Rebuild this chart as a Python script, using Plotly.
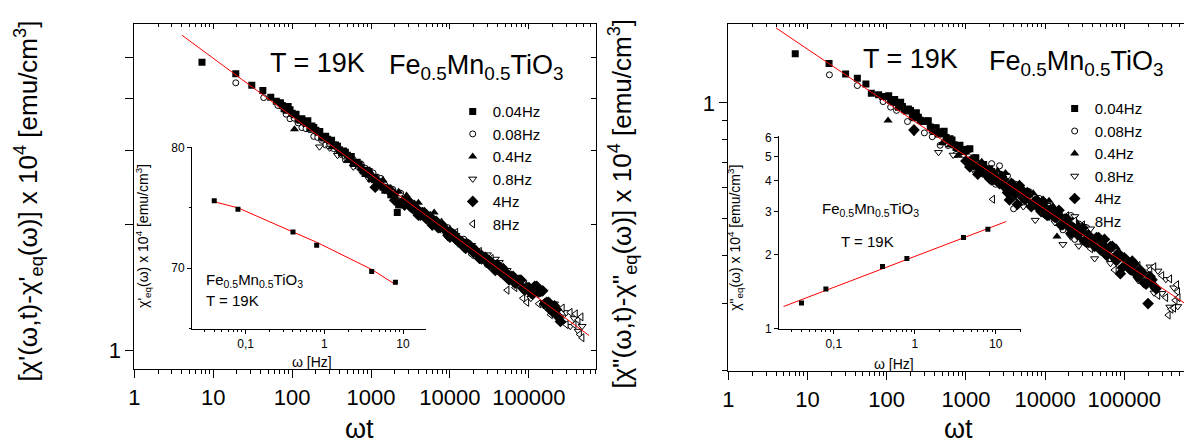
import plotly.graph_objects as go

W, H = 1184, 447
FONT = "Liberation Sans, Arial, sans-serif"

# ---------------- data: left panel (chi') ----------------
L_SQ_X = [7.2, 19.3, 30.8, 42.5, 53.6, 63, 71, 79, 89, 100, 112, 126, 141, 158, 178, 200, 224, 251, 282, 316, 355, 398, 447, 501, 562, 631, 708, 794, 891, 1000, 1122, 1259, 1413, 1585, 1778, 1995, 2150, 2239,
          75, 84, 94, 106, 119, 133, 150, 168, 188, 211, 237, 266, 299, 335, 376, 422, 473, 531, 596, 668, 750, 841, 944, 1059, 1189, 1334, 1496, 1679, 1884]
L_SQ_Y = [4.87, 4.57, 4.29, 4.17, 4.02, 3.93, 3.90, 3.77, 3.82, 3.68, 3.66, 3.54, 3.51, 3.53, 3.43, 3.35, 3.33, 3.21, 3.19, 3.17, 3.09, 3.01, 2.99, 2.92, 2.90, 2.80, 2.78, 2.68, 2.69, 2.57, 2.58, 2.51, 2.45, 2.44, 2.35, 2.33, 2.13, 2.22,
          3.84, 3.74, 3.75, 3.65, 3.56, 3.57, 3.48, 3.39, 3.40, 3.32, 3.23, 3.24, 3.16, 3.09, 3.07, 2.96, 2.97, 2.90, 2.79, 2.81, 2.73, 2.64, 2.67, 2.57, 2.51, 2.52, 2.41, 2.42, 2.35]

L_CI_X = [19.3, 43.6, 66, 84, 94, 106, 119, 133, 150, 168, 188, 211, 237, 266, 299, 335, 376, 422, 473, 531, 596, 668, 750, 841, 944, 1059, 1189, 1334, 1496, 1679, 1884, 2113, 2371, 2661, 2985, 3758, 4732, 5957, 7499, 9441, 11885, 14962, 18836, 23714, 29854]
L_CI_Y = [4.35, 4.01, 3.84, 3.66, 3.57, 3.58, 3.49, 3.40, 3.38, 3.36, 3.24, 3.22, 3.17, 3.09, 3.10, 3.03, 2.95, 2.93, 2.85, 2.87, 2.85, 2.75, 2.78, 2.72, 2.64, 2.65, 2.59, 2.57, 2.48, 2.39, 2.42, 2.29, 2.37, 2.24, 2.27, 2.12, 2.13, 2.01, 1.98, 1.96, 1.84, 1.84, 1.71, 1.71, 1.60]

L_UT_X = [107, 316, 398, 501, 631, 794, 1000, 1122, 1259, 1413, 1585, 1778, 1995, 2239, 2512, 2818, 3162, 3548, 3981, 4467, 5012, 5623, 6310, 7079, 7943, 8913, 10000, 11220, 12589, 14125, 15849, 17783, 19953, 22387, 25119, 28184, 31623, 35481, 39811, 50119, 63096]
L_UT_Y = [3.37, 3.05, 3.01, 2.83, 2.80, 2.68, 2.65, 2.53, 2.54, 2.55, 2.44, 2.44, 2.38, 2.39, 2.29, 2.34, 2.24, 2.24, 2.25, 2.15, 2.08, 2.10, 2.13, 2.00, 2.01, 1.92, 1.94, 1.87, 1.86, 1.78, 1.81, 1.76, 1.76, 1.69, 1.70, 1.65, 1.65, 1.58, 1.59, 1.52, 1.48]

L_DT_X = [222, 299, 376, 473, 596, 750, 944, 1189, 1496, 1884, 2371, 2985, 3758, 4732, 5957, 7499, 9441, 11885, 14962, 18836, 23714, 29854, 37584, 42170, 47315, 53088, 66834, 84140, 105925, 133352, 167880, 211349, 266073, 298538, 334965, 375837, 421696, 473151]
L_DT_Y = [3.06, 3.04, 2.92, 2.88, 2.74, 2.68, 2.56, 2.53, 2.41, 2.35, 2.23, 2.23, 2.11, 2.07, 1.97, 1.98, 1.86, 1.88, 1.76, 1.78, 1.64, 1.69, 1.65, 1.62, 1.50, 1.55, 1.43, 1.45, 1.33, 1.36, 1.26, 1.29, 1.20, 1.23, 1.14, 1.19, 1.11, 1.14]

L_DI_X = [1130, 1995, 2512, 2818, 3162, 3548, 3981, 4467, 5012, 5623, 6310, 7079, 7943, 8913, 10000, 11220, 12589, 14125, 15849, 17783, 19953, 22387, 25119, 28184, 31623, 35481, 39811, 44668, 50119, 56234, 63096, 70795, 79433, 89125, 100000, 112202, 125893, 141254, 158489, 177828, 199526, 223872, 251189,
          2661, 2985, 3350, 3758, 4217, 4732, 5309, 5957, 6683, 7499, 8414, 9441, 10593, 11885, 13335, 14962, 16788, 18836, 21135, 23714, 26607, 29854, 33497, 37584, 42170, 47315, 53088, 59566, 66834, 74989, 84140, 94406, 105925, 118850, 133352, 149624, 167880, 188365, 211349, 237137]
L_DI_Y = [2.45, 2.28, 2.26, 2.27, 2.20, 2.18, 2.10, 2.13, 2.06, 2.08, 2.01, 1.96, 1.99, 1.935, 1.86, 1.89, 1.82, 1.815, 1.75, 1.78, 1.71, 1.70, 1.65, 1.665, 1.60, 1.60, 1.60, 1.53, 1.535, 1.47, 1.50, 1.45, 1.47, 1.39, 1.41, 1.36, 1.42, 1.38, 1.29, 1.30, 1.235, 1.25, 1.17,
          2.22, 2.27, 2.18, 2.18, 2.10, 2.13, 2.06, 1.99, 2.03, 1.96, 1.95, 1.88, 1.90, 1.84, 1.825, 1.765, 1.79, 1.73, 1.73, 1.655, 1.667, 1.62, 1.62, 1.55, 1.557, 1.565, 1.49, 1.50, 1.445, 1.47, 1.405, 1.41, 1.37, 1.42, 1.38, 1.385, 1.30, 1.25, 1.275, 1.20]

L_LT_X = [5957, 7499, 9441, 11885, 14962, 18836, 23714, 29854, 33497, 42170, 53088, 66834, 74989, 84140, 94406, 105925, 118850, 133352, 149624, 167880, 188365, 211349, 237137, 266073, 298538, 334965, 375837, 390000, 421696, 440000, 460000, 473151]
L_LT_Y = [1.99, 2.02, 1.88, 1.91, 1.78, 1.69, 1.72, 1.60, 1.655, 1.53, 1.39, 1.41, 1.47, 1.33, 1.30, 1.355, 1.38, 1.29, 1.28, 1.30, 1.215, 1.275, 1.20, 1.26, 1.15, 1.23, 1.15, 1.22, 1.18, 1.09, 1.20, 1.07]

L_FIT_X = [4.03, 580000]
L_FIT_Y = [5.65, 1.083]

# ---------------- data: right panel (chi'') ----------------
R_SQ_X = [7.0, 18.7, 30.3, 42.6, 54.6, 64, 79, 89, 100, 112, 126, 141, 158, 178, 200, 224, 251, 282, 316, 355, 398, 447, 501, 562, 631, 708, 794, 891, 1000, 1122, 1259, 1413, 1585, 1778, 1995, 2239, 2512,
          106, 119, 133, 150, 168, 188, 211, 237, 266, 299, 335, 376, 422, 473, 531, 596, 668, 750, 841, 944, 1059, 1189, 1334, 1496, 1679, 1884, 2113]
R_SQ_Y = [1.344, 1.268, 1.19, 1.16, 1.12, 1.06, 1.05, 1.04, 1.04, 1.016, 1.02, 0.974, 0.978, 0.953, 0.956, 0.914, 0.917, 0.894, 0.897, 0.865, 0.86, 0.83, 0.841, 0.812, 0.806, 0.778, 0.774, 0.746, 0.756, 0.759, 0.718, 0.679, 0.689, 0.651, 0.673, 0.624, 0.639,
          1.044, 1.007, 1.002, 1.004, 0.96, 0.964, 0.921, 0.942, 0.901, 0.895, 0.898, 0.85, 0.861, 0.831, 0.843, 0.798, 0.80, 0.765, 0.775, 0.748, 0.757, 0.71, 0.719, 0.68, 0.69, 0.646, 0.662]

R_CI_X = [18.9, 42.6, 90, 112, 133, 183, 299, 376, 473, 596, 750, 944, 1189, 1496, 1884, 2113, 2371, 2661, 2985, 3350, 3758, 4217, 4732, 5309, 6683, 8414, 10593, 13335, 16788, 21135, 23714, 26607, 29854, 33497, 37584, 4000]
R_CI_Y = [1.184, 1.11, 1.008, 0.975, 0.956, 0.894, 0.835, 0.816, 0.775, 0.774, 0.734, 0.733, 0.696, 0.694, 0.646, 0.694, 0.613, 0.685, 0.612, 0.645, 0.562, 0.613, 0.562, 0.588, 0.541, 0.563, 0.514, 0.522, 0.466, 0.508, 0.44, 0.483, 0.435, 0.472, 0.425, 0.529]

R_UT_X = [104, 398, 501, 631, 794, 1000, 1259, 1585, 1995, 2512, 2818, 3162, 3548, 3981, 4467, 5012, 5623, 6310, 7079, 7943, 8913, 10000, 11220, 12589, 14125, 15849, 17783, 19953, 22387, 25119, 28184, 31623, 39811, 50119, 56234, 63096, 79433]
R_UT_Y = [0.90, 0.835, 0.785, 0.775, 0.728, 0.742, 0.697, 0.702, 0.66, 0.665, 0.635, 0.656, 0.597, 0.618, 0.59, 0.604, 0.554, 0.573, 0.581, 0.54, 0.552, 0.528, 0.555, 0.537, 0.448, 0.51, 0.477, 0.498, 0.472, 0.487, 0.443, 0.458, 0.426, 0.438, 0.444, 0.42, 0.419]

R_DT_X = [221, 451, 690, 1059, 1334, 1679, 2113, 2661, 3350, 4217, 5309, 5957, 7499, 8414, 10593, 13335, 16788, 18836, 21135, 23714, 26607, 29854, 33497, 37584, 42170, 53088, 66834, 74989, 94406, 118850, 149624, 188365, 211349, 237137, 266073, 298538, 334965, 375837, 421696, 473151]
R_DT_Y = [0.838, 0.743, 0.731, 0.692, 0.656, 0.657, 0.622, 0.653, 0.589, 0.607, 0.536, 0.589, 0.494, 0.53, 0.54, 0.487, 0.427, 0.497, 0.447, 0.505, 0.423, 0.476, 0.427, 0.469, 0.392, 0.41, 0.381, 0.406, 0.371, 0.385, 0.344, 0.357, 0.373, 0.319, 0.364, 0.318, 0.346, 0.293, 0.329, 0.294]

R_DI_X = [221, 1000, 1122, 1259, 1413, 1585, 1778, 1995, 2239, 2512, 2818, 3162, 3548, 3981, 4467, 5012, 5623, 6310, 7079, 7943, 8913, 10000, 11220, 12589, 14125, 15849, 17783, 19953, 22387, 25119, 28184, 31623, 35481, 39811, 44668, 50119, 56234, 63096, 70795, 79433, 89125, 100000, 112202, 125893, 141254, 158489, 177828, 199526, 223872, 251189,
          2661, 2985, 3350, 3758, 4217, 4732, 5309, 5957, 6683, 7499, 8414, 9441, 10593, 11885, 13335, 14962, 16788, 18836, 21135, 23714, 26607, 29854, 33497, 37584, 42170, 47315, 53088, 59566, 66834, 74989, 84140, 94406, 105925, 118850, 133352, 149624, 167880, 188365, 211349, 237137]
R_DI_Y = [0.85, 0.705, 0.68, 0.69, 0.651, 0.662, 0.664, 0.634, 0.65, 0.626, 0.642, 0.60, 0.558, 0.60, 0.543, 0.593, 0.56, 0.579, 0.547, 0.556, 0.52, 0.533, 0.509, 0.526, 0.503, 0.48, 0.497, 0.474, 0.486, 0.455, 0.462, 0.436, 0.451, 0.435, 0.445, 0.413, 0.44, 0.416, 0.422, 0.387, 0.358, 0.394, 0.377, 0.386, 0.358, 0.366, 0.339, 0.299, 0.345, 0.327,
          0.615, 0.63, 0.583, 0.616, 0.577, 0.608, 0.564, 0.583, 0.536, 0.554, 0.53, 0.553, 0.508, 0.525, 0.502, 0.524, 0.481, 0.497, 0.456, 0.477, 0.455, 0.471, 0.432, 0.442, 0.422, 0.445, 0.426, 0.40, 0.421, 0.394, 0.404, 0.371, 0.388, 0.367, 0.379, 0.351, 0.36, 0.336, 0.352, 0.332]

R_LT_X = [2180, 5957, 7499, 9441, 11885, 14962, 18836, 23714, 29854, 37584, 47315, 59566, 74989, 94406, 118850, 149624, 188365, 211349, 237137, 266073, 298538, 334965, 360000, 375837, 390000, 421696, 440000, 460000, 473151, 480000]
R_LT_Y = [0.56, 0.549, 0.56, 0.511, 0.53, 0.489, 0.507, 0.454, 0.48, 0.416, 0.437, 0.396, 0.366, 0.394, 0.363, 0.376, 0.34, 0.366, 0.373, 0.314, 0.354, 0.31, 0.279, 0.347, 0.289, 0.291, 0.305, 0.335, 0.321, 0.31]

R_FIT_X = [4.0, 600000]
R_FIT_Y = [1.57, 0.298]

# ---------------- data: insets ----------------
INSET_W = [0.04, 0.08, 0.4, 0.8, 4, 8]
INSET_L_Y = [75.58, 74.88, 73.0, 71.9, 69.73, 68.84]
INSET_L_FIT_Y = [75.5, 75.0, 73.0, 72.15, 69.9, 68.65]
INSET_R_Y = [1.27, 1.45, 1.79, 1.93, 2.35, 2.54]
INSET_R_FIT_X = [0.024, 13.5]
INSET_R_FIT_Y = [1.23, 2.73]

SERIES_NAMES = ["0.04Hz", "0.08Hz", "0.4Hz", "0.8Hz", "4Hz", "8Hz"]
MAIN_TICKS = [1, 10, 100, 1000, 10000, 100000]
MAIN_TICK_TEXT = ["1", "10", "100", "1000", "10000", "100000"]

# marker styles: (symbol, fill, size)
STYLES = [("square", "black", 7), ("circle", "white", 6), ("triangle-up", "black", 8),
          ("triangle-down", "white", 7), ("diamond", "black", 9), ("triangle-left", "white", 7)]
# open-symbol series are drawn first so that the filled ones form the dark band on top
DRAW_ORDER = [1, 3, 5, 0, 2, 4]


def px(x):
    return x / W


def py(y):
    return 1 - y / H


fig = go.Figure()

left_series = [(L_SQ_X, L_SQ_Y), (L_CI_X, L_CI_Y), (L_UT_X, L_UT_Y),
               (L_DT_X, L_DT_Y), (L_DI_X, L_DI_Y), (L_LT_X, L_LT_Y)]
right_series = [(R_SQ_X, R_SQ_Y), (R_CI_X, R_CI_Y), (R_UT_X, R_UT_Y),
                (R_DT_X, R_DT_Y), (R_DI_X, R_DI_Y), (R_LT_X, R_LT_Y)]


def add_panel(series, xa, ya, legend_id, fit_x, fit_y):
    for i in DRAW_ORDER:
        xs, ys = series[i]
        sym, fill, size = STYLES[i]
        fig.add_trace(go.Scatter(x=xs, y=ys, mode="markers", name=SERIES_NAMES[i], xaxis=xa, yaxis=ya,
                                 legend=legend_id, legendrank=i + 1,
                                 marker=dict(symbol=sym, color=fill, size=size,
                                             line=dict(color="black", width=1 if fill == "white" else 0))))
    fig.add_trace(go.Scatter(x=fit_x, y=fit_y, mode="lines", xaxis=xa, yaxis=ya,
                             line=dict(color="red", width=1), showlegend=False))


add_panel(left_series, "x", "y", "legend", L_FIT_X, L_FIT_Y)
add_panel(right_series, "x3", "y3", "legend2", R_FIT_X, R_FIT_Y)

# insets
fig.add_trace(go.Scatter(x=INSET_W, y=INSET_L_FIT_Y, mode="lines", xaxis="x2", yaxis="y2",
                         line=dict(color="red", width=1), showlegend=False))
fig.add_trace(go.Scatter(x=INSET_W, y=INSET_L_Y, mode="markers", xaxis="x2", yaxis="y2",
                         marker=dict(symbol="square", color="black", size=5), showlegend=False))
fig.add_trace(go.Scatter(x=INSET_R_FIT_X, y=INSET_R_FIT_Y, mode="lines", xaxis="x4", yaxis="y4",
                         line=dict(color="red", width=1), showlegend=False))
fig.add_trace(go.Scatter(x=INSET_W, y=INSET_R_Y, mode="markers", xaxis="x4", yaxis="y4",
                         marker=dict(symbol="square", color="black", size=5), showlegend=False))

# empty traces so the mirrored (inward-tick) frame axes get drawn
for xa, ya in [("x5", "y"), ("x", "y5"), ("x6", "y3")]:
    fig.add_trace(go.Scatter(x=[], y=[], xaxis=xa, yaxis=ya, showlegend=False, hoverinfo="skip"))

main_minor = [m * 10 ** e for e in range(0, 6) for m in range(2, 10)]
inset_minor = [m * 10 ** e for e in range(-2, 2) for m in range(2, 10)]

main_ax = dict(type="log", showgrid=False, zeroline=False, showline=True, linecolor="black",
               linewidth=1, ticks="outside", ticklen=8, tickcolor="black",
               tickfont=dict(family=FONT, size=22, color="black"))
frame_ax = dict(type="log", showgrid=False, zeroline=False, showline=True, linecolor="black",
                linewidth=1, ticks="inside", ticklen=5, tickcolor="black", showticklabels=False)
inset_ax = dict(showgrid=False, zeroline=False, showline=True, linecolor="black", linewidth=1,
                ticks="outside", ticklen=4, tickcolor="black",
                tickfont=dict(family=FONT, size=12, color="black"))

LX_RANGE = [0, 5.851]
LY_RANGE = [-0.046, 0.778]
RX_RANGE = [0, 5.754]
RY_RANGE = [-0.701, 0.205]

fig.update_layout(
    width=W, height=H, margin=dict(l=0, r=0, t=0, b=0),
    paper_bgcolor="white", plot_bgcolor="rgba(0,0,0,0)",
    font=dict(family=FONT, color="black"),
    xaxis=dict(**main_ax, domain=[px(129), px(593)], range=LX_RANGE, anchor="y",
               tickvals=MAIN_TICKS, ticktext=MAIN_TICK_TEXT,
               minor=dict(tickvals=main_minor, ticks="outside", ticklen=4, tickcolor="black")),
    yaxis=dict(**main_ax, domain=[py(374), py(18)], range=LY_RANGE, anchor="x",
               tickvals=[1], ticktext=["1"],
               minor=dict(tickvals=[2, 3, 4, 5], ticks="outside", ticklen=8, tickcolor="black")),
    xaxis5=dict(**frame_ax, overlaying="x", side="top", anchor="y", range=LX_RANGE,
                tickvals=MAIN_TICKS,
                minor=dict(tickvals=main_minor, ticks="inside", ticklen=3, tickcolor="black")),
    yaxis5=dict(**frame_ax, overlaying="y", side="right", anchor="x", range=LY_RANGE,
                tickvals=[1, 2, 3, 4, 5]),
    xaxis3=dict(**main_ax, domain=[px(726), 1.0], range=RX_RANGE, anchor="y3",
                tickvals=MAIN_TICKS, ticktext=MAIN_TICK_TEXT,
                minor=dict(tickvals=main_minor, ticks="outside", ticklen=4, tickcolor="black")),
    xaxis6=dict(**frame_ax, overlaying="x3", side="top", anchor="y3", range=RX_RANGE,
                tickvals=MAIN_TICKS,
                minor=dict(tickvals=main_minor, ticks="inside", ticklen=3, tickcolor="black")),
    yaxis3=dict(**main_ax, domain=[py(376), py(18)], range=RY_RANGE, anchor="x3",
                tickvals=[1], ticktext=["1"],
                minor=dict(tickvals=[0.2, 0.3, 0.4, 0.5, 0.6, 0.7, 0.8, 0.9], ticks="outside",
                           ticklen=5, tickcolor="black")),
    xaxis2=dict(**inset_ax, type="log", domain=[px(187), px(422)], range=[-1.68, 1.29], anchor="y2",
                tickvals=[0.1, 1, 10], ticktext=["0,1", "1", "10"],
                minor=dict(tickvals=inset_minor, ticks="outside", ticklen=2, tickcolor="black")),
    yaxis2=dict(**inset_ax, domain=[py(332), py(145)], range=[65, 80], anchor="x2",
                tickvals=[70, 80], ticktext=["70", "80"],
                minor=dict(tickvals=[65, 75], ticks="outside", ticklen=2, tickcolor="black")),
    xaxis4=dict(**inset_ax, type="log", domain=[px(777), px(1020)], range=[-1.675, 1.31], anchor="y4",
                tickvals=[0.1, 1, 10], ticktext=["0,1", "1", "10"],
                minor=dict(tickvals=inset_minor, ticks="outside", ticklen=2, tickcolor="black")),
    yaxis4=dict(**inset_ax, type="log", domain=[py(332), py(133)], range=[0, 0.785], anchor="x4",
                tickvals=[1, 2, 3, 4, 5, 6], ticktext=["1", "2", "3", "4", "5", "6"]),
    legend=dict(x=px(449), y=py(91), xanchor="left", yanchor="top", bgcolor="rgba(0,0,0,0)",
                font=dict(family=FONT, size=15, color="black"), itemwidth=30, tracegroupgap=0),
    legend2=dict(x=px(1054), y=py(88), xanchor="left", yanchor="top", bgcolor="rgba(0,0,0,0)",
                 font=dict(family=FONT, size=15, color="black"), itemwidth=30, tracegroupgap=0),
)

ann = []


def add_text(text, x, y, size, xanchor="center", yanchor="middle", angle=0):
    ann.append(dict(text=text, x=px(x), y=py(y), xref="paper", yref="paper", showarrow=False,
                    xanchor=xanchor, yanchor=yanchor, textangle=angle,
                    font=dict(family=FONT, size=size, color="black")))


FORMULA = "Fe<sub>0.5</sub>Mn<sub>0.5</sub>TiO<sub>3</sub>"
# main panel headers
add_text("T = 19K", 263, 58, 27, xanchor="left")
add_text(FORMULA, 383, 62, 27, xanchor="left")
add_text("T = 19K", 859, 54, 27, xanchor="left")
add_text(FORMULA, 986, 58, 27, xanchor="left")
# axis titles
add_text("[χ'(ω,t)-χ'<sub>eq</sub>(ω)] x 10<sup>4</sup> [emu/cm<sup>3</sup>]", 22, 200, 26, angle=-90)
add_text("[χ\"(ω,t)-χ\"<sub>eq</sub>(ω)] x 10<sup>4</sup> [emu/cm<sup>3</sup>]", 619, 203, 26, angle=-90)
add_text("ωt", 355, 436, 27)
add_text("ωt", 957, 436, 27)
# inset texts
add_text("ω [Hz]", 308, 366, 14)
add_text("ω [Hz]", 893, 369, 14)
add_text("χ'<sub>eq</sub>(ω) x 10<sup>4</sup> [emu/cm<sup>3</sup>]", 137, 236, 14, angle=-90)
add_text("χ\"<sub>eq</sub>(ω) x 10<sup>4</sup> [emu/cm<sup>3</sup>]", 732, 238, 14, angle=-90)
add_text(FORMULA, 199, 282, 15, xanchor="left")
add_text("T = 19K", 199, 303, 15, xanchor="left")
add_text(FORMULA, 869, 209, 15)
add_text("T = 19K", 866, 242, 15)

fig.update_layout(annotations=ann)
fig.write_html("out.html", config={"displayModeBar": False},
               post_script="document.body.style.margin='0';document.body.style.overflow='hidden';")
